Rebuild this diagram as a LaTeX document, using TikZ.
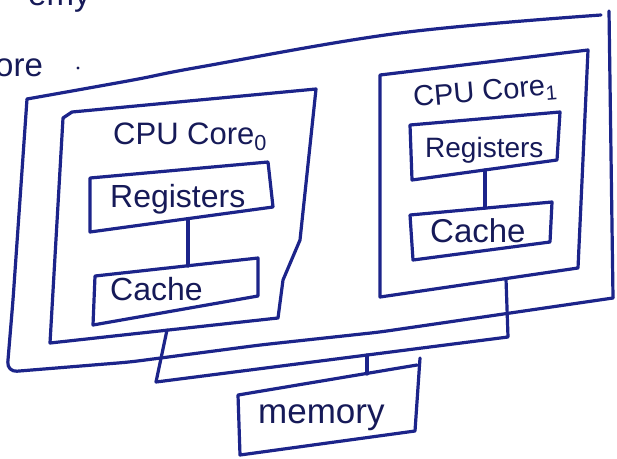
\documentclass[tikz,border=0pt]{standalone}
\usepackage{fontspec}
\setmainfont{Liberation Sans}
\definecolor{ink}{RGB}{28,36,138}
\definecolor{inktext}{RGB}{22,26,88}
\tikzset{
  pen/.style={draw=ink, line width=3.2pt, line cap=round, line join=round},
  hand/.style={text=inktext, inner sep=0pt, anchor=base west,
    font=\fontsize{#1pt}{#1pt}\selectfont},
}
\begin{document}
\begin{tikzpicture}[x=1pt,y=-1pt]
\useasboundingbox (0,0) rectangle (617,458);
\clip (0,0) rectangle (617,458);
\fill[white] (0,0) rectangle (617,458);

% words running off the edge of the sheet
\node[hand=33] (wtop) at (28,5) {emy};
\node[hand=33] (wleft) at (-5,76) {ore};
\fill[inktext] (78,68) circle (1.6);

% outer processor package
\draw[pen] plot[smooth, tension=0.6] coordinates {(27,99) (133,80) (200,67) (400,33) (601,15)};
\draw[pen] (609,11) -- (613,298);
\draw[pen, rounded corners=10pt] (613,298) -- (380,332) -- (260,345) -- (130,362) -- (7,372) -- (13,300) -- (27,99);

% core 0
\draw[pen] (63,118) -- (72,112) -- (316,89) -- (300,240) -- (283,280) -- (278,318) -- (50,343) -- cycle;
\draw[pen] (90,178) -- (268,162) -- (273,207) -- (90,232) -- cycle;
\draw[pen] (95,276) -- (258,258) -- (258,296) -- (93,325) -- cycle;
\node[hand=31] (title0) at (113,144) {CPU Core\textsubscript{0}};
\node[hand=32] (reg0) at (110,207) {Registers};
\node[hand=32] (cache0) at (110,300) {Cache};
\coordinate (reg0s) at (188,219);
\coordinate (cache0n) at (188,266);
\draw[pen] (reg0s) -- (cache0n);

% core 1
\draw[pen] (380,75) -- (588,50) -- (578,268) -- (380,297) -- cycle;
\draw[pen] (410,125) -- (560,112) -- (557,160) -- (412,180) -- cycle;
\draw[pen] (410,215) -- (552,202) -- (550,242) -- (413,260) -- cycle;
\node[hand=29, rotate=5] (title1) at (414,107) {CPU Core\textsubscript{1}};
\node[hand=28] (reg1) at (425,157) {Registers};
\node[hand=33] (cache1) at (430,242) {Cache};
\coordinate (reg1s) at (485,170);
\coordinate (cache1n) at (485,208);
\draw[pen] (reg1s) -- (cache1n);

% shared bus to memory
\coordinate (core0s) at (167,330);
\coordinate (busL) at (156,382);
\coordinate (busR) at (508,337);
\coordinate (core1s) at (506,279);
\draw[pen] (core0s) -- (busL) -- (busR) -- (core1s);
\coordinate (tap) at (367,355);
\coordinate (memn) at (367,374);
\draw[pen] (tap) -- (memn);

% memory
\draw[pen] (420,358) -- (415,431) -- (240,455) -- (238,395) -- (417,365);
\node[hand=35] (mem) at (258,423) {memory};
\end{tikzpicture}
\end{document}
